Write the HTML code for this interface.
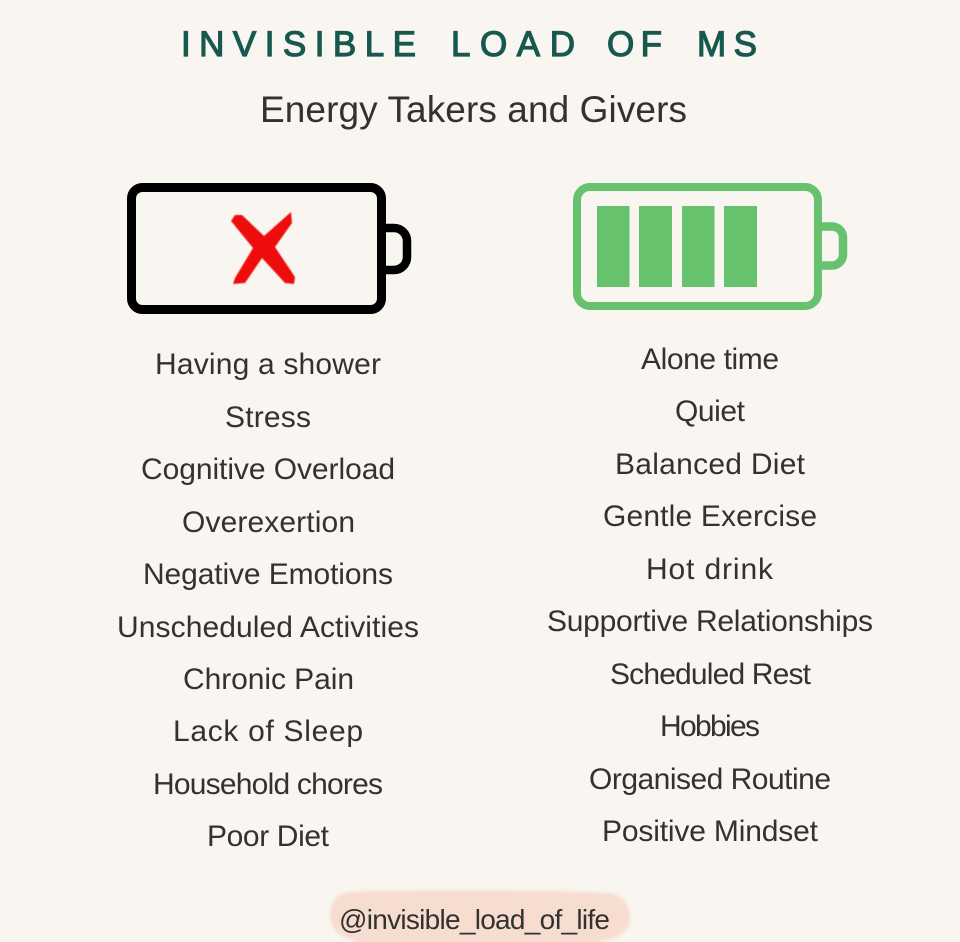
<!DOCTYPE html>
<html>
<head>
<meta charset="utf-8">
<style>
html,body{margin:0;padding:0;background:#f9f5f0;}
svg{display:block}
text{font-family:"Liberation Sans",sans-serif;fill:#333230;font-size:30px;}
.h{font-size:35px;fill:#17594f;stroke:#17594f;stroke-width:1.2px;}
</style>
</head>
<body>
<svg width="960" height="942" viewBox="0 0 960 942" xmlns="http://www.w3.org/2000/svg">
<defs>
<filter id="b" x="-5%" y="-20%" width="110%" height="140%"><feGaussianBlur stdDeviation="1.5"/></filter>
<filter id="s" x="-10%" y="-10%" width="120%" height="120%"><feGaussianBlur stdDeviation="0.5"/></filter>
</defs>
<rect width="960" height="942" fill="#f9f5f0"/>

<text class="h" x="181" y="56" textLength="235" lengthAdjust="spacing">INVISIBLE</text>
<text class="h" x="451" y="56" textLength="124" lengthAdjust="spacing">LOAD</text>
<text class="h" x="607" y="56" textLength="55" lengthAdjust="spacing">OF</text>
<text class="h" x="697" y="56" textLength="60" lengthAdjust="spacing">MS</text>
<text x="260" y="122" style="font-size:37px" textLength="427" lengthAdjust="spacing">Energy Takers and Givers</text>

<rect x="131.500" y="187.500" width="250" height="122" rx="11" fill="none" stroke="#000" stroke-width="9"/>
<path d="M384 228h10a13 13 0 0 1 13 13v16a13 13 0 0 1-13 13h-10" fill="none" stroke="#000" stroke-width="8.5"/>
<path d="M231 221 L235 215 L242 215 L264 236 L291 212 L292 223 L275 247 L295 277 L294 284 L285 283 L262 258 L245 283 L233 284 L235 278 L253 248 Z" fill="#ee1111" filter="url(#s)"/>

<rect x="577" y="187" width="241" height="119" rx="13" fill="none" stroke="#67c26d" stroke-width="8"/>
<path d="M820 226.500h12a11 11 0 0 1 11 11v17a11 11 0 0 1-11 11h-12" fill="none" stroke="#67c26d" stroke-width="8.500"/>
<rect x="597" y="206" width="32.500" height="81" fill="#67c26d"/>
<rect x="639" y="206" width="33" height="81" fill="#67c26d"/>
<rect x="682" y="206" width="32.500" height="81" fill="#67c26d"/>
<rect x="724" y="206" width="33" height="81" fill="#67c26d"/>

<path d="M348 892 C420 889 560 890 608 893 C624 895 631 906 630 919 C629 932 618 939 600 941 L598 946 L362 946 L355 941 C340 937 331 929 330 917 C330 903 336 894 348 892 Z" fill="#f7ddcf" filter="url(#b)"/>

<text x="155" y="374" textLength="226" lengthAdjust="spacing">Having a shower</text>
<text x="225" y="427" textLength="86" lengthAdjust="spacing">Stress</text>
<text x="141" y="479" textLength="254" lengthAdjust="spacing">Cognitive Overload</text>
<text x="182" y="532" textLength="173" lengthAdjust="spacing">Overexertion</text>
<text x="143" y="584" textLength="250" lengthAdjust="spacing">Negative Emotions</text>
<text x="117" y="637" textLength="302" lengthAdjust="spacing">Unscheduled Activities</text>
<text x="183" y="689" textLength="171" lengthAdjust="spacing">Chronic Pain</text>
<text x="173" y="741" textLength="190" lengthAdjust="spacing">Lack of Sleep</text>
<text x="153" y="794" textLength="230" lengthAdjust="spacing">Household chores</text>
<text x="207" y="846" textLength="122" lengthAdjust="spacing">Poor Diet</text>

<text x="641" y="369" textLength="138" lengthAdjust="spacing">Alone time</text>
<text x="675" y="421" textLength="70" lengthAdjust="spacing">Quiet</text>
<text x="615" y="474" textLength="190" lengthAdjust="spacing">Balanced Diet</text>
<text x="603" y="526" textLength="214" lengthAdjust="spacing">Gentle Exercise</text>
<text x="646" y="579" textLength="127" lengthAdjust="spacing">Hot drink</text>
<text x="547" y="631" textLength="326" lengthAdjust="spacing">Supportive Relationships</text>
<text x="610" y="684" textLength="201" lengthAdjust="spacing">Scheduled Rest</text>
<text x="660" y="736" textLength="100" lengthAdjust="spacing">Hobbies</text>
<text x="589" y="789" textLength="242" lengthAdjust="spacing">Organised Routine</text>
<text x="602" y="841" textLength="216" lengthAdjust="spacing">Positive Mindset</text>

<text x="339" y="929" style="font-size:28px" textLength="271" lengthAdjust="spacing">@invisible_load_of_life</text>
</svg>
</body>
</html>
